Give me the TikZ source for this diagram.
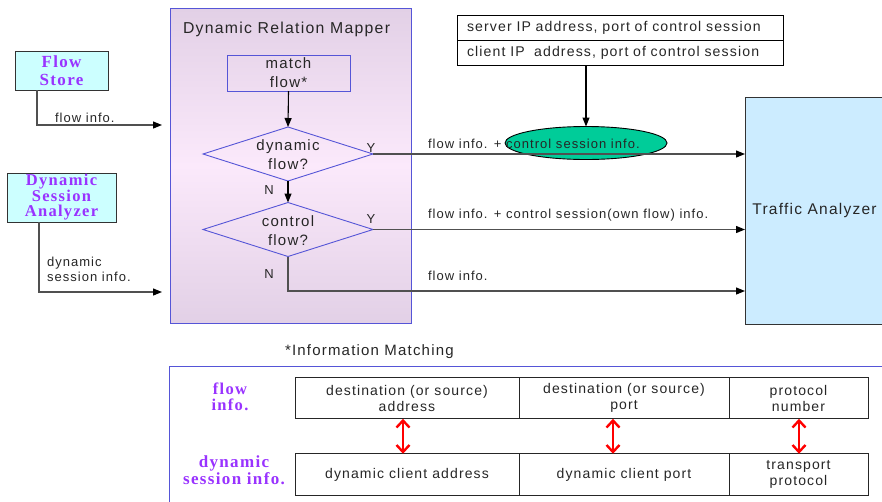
\documentclass[tikz,border=0pt]{standalone}
\usepackage{fontspec}
\setmainfont[LetterSpace=8]{Liberation Sans}
\newfontfamily\serifhead[LetterSpace=8]{Liberation Serif}
\usetikzlibrary{arrows.meta,shapes.geometric}
\definecolor{headpurple}{RGB}{153,51,255}
\definecolor{srcfill}{RGB}{204,255,255}
\definecolor{tafill}{RGB}{204,236,255}
\definecolor{mapblue}{RGB}{85,85,215}
\definecolor{ellgreen}{RGB}{0,204,153}
\definecolor{wire}{RGB}{80,80,80}
\definecolor{maptop}{RGB}{226,208,230}
\definecolor{mapmid}{RGB}{251,233,251}
\newcommand\fsz[2]{\fontsize{#1}{#2}\selectfont}

\begin{document}
\begin{tikzpicture}[x=1pt,y=-1pt,
  every node/.style={inner sep=0pt, outer sep=0pt, text=black!85},
  srcbox/.style={draw=black!80, line width=1pt, fill=srcfill, align=center,
    text=headpurple, font=\serifhead\bfseries\fsz{17}{18}},
  drmbox/.style={draw=mapblue, line width=1pt, top color=maptop,
    bottom color=maptop, middle color=mapmid},
  bluebox/.style={draw=mapblue, line width=0.9pt, align=center},
  decision/.style={diamond, draw=mapblue, line width=0.9pt,
    minimum width=170pt, minimum height=54pt},
  dectext/.style={align=center, font=\fsz{15}{19}},
  flowlbl/.style={font=\fsz{13}{15}},
  wireline/.style={draw=wire, line width=1.2pt},
  tip/.style={-{Triangle[length=9pt,width=7pt,color=black]}},
  infocell/.style={draw=black, line width=1pt, minimum height=25pt,
    minimum width=326pt, text width=306pt, align=left, font=\fsz{14.1}{16}},
  cell/.style={draw=black!85, line width=1pt, minimum height=41.5pt,
    align=center, font=\fsz{14}{16}},
  matcharrow/.style={draw=red, line width=2.4pt,
    {Straight Barb[length=7pt,width=13pt]}-{Straight Barb[length=7pt,width=13pt]}},
  purplehead/.style={text=headpurple, align=center}
]
\clip (0,0) rectangle (882,501);

% ---- sources on the left
\node[srcbox, minimum width=93pt, minimum height=39pt] (fs) at (61.5,70.5) {Flow\\Store};
\node[srcbox, font=\serifhead\bfseries\fsz{16.5}{15.5}, minimum width=109pt,
  minimum height=49pt] (dsa) at (61.5,197.5) {Dynamic\\Session\\Analyzer};

% ---- mapper block
\node[drmbox, minimum width=241pt, minimum height=315pt] (drm) at (290.5,165.5) {};
\node[anchor=base west, font=\fsz{15.8}{17}] (drmtitle) at (183,33) {Dynamic Relation Mapper};
\node[bluebox, minimum width=123pt, minimum height=36pt, font=\fsz{15}{19}] (mf)
  at (288.5,73) {match\\flow*};
\node[decision] (d1) at (288,154) {};
\node[dectext] (d1t) at (288,155) {dynamic\\flow?};
\node[decision] (d2) at (288,229.5) {};
\node[dectext] (d2t) at (288,230.5) {control\\flow?};

% ---- analyzer
\node[draw=black!80, line width=1pt, fill=tafill, minimum width=139pt,
  minimum height=227pt, font=\fsz{15.5}{17}] (ta) at (814.5,210.5) {Traffic Analyzer};

% ---- control session table and marker
\node[infocell] (srv) at (620,27.5) {server IP address, port of control session};
\node[infocell] (cli) at (620,52.5) {client IP~ address, port of control session};
\node[ellipse, draw=black, line width=0.9pt, fill=ellgreen, minimum width=162pt,
  minimum height=33pt] (ell) at (586,143) {};
\draw[draw=black, line width=1.1pt, tip] (ell.north |- cli.south) -- (ell.north);

% ---- inputs to the mapper
\coordinate (fsin) at (162,125);
\coordinate (dsain) at (162,292);
\draw[wireline, tip] ([xshift=22pt]fs.south west) |- (fsin);
\draw[wireline, tip] ([xshift=32pt]dsa.south west) |- (dsain);
\node[flowlbl, anchor=base west] (fsl) at (55,122) {flow info.};
\node[flowlbl, anchor=west, align=left] (dsal) at (47,269.5) {dynamic\\session info.};

% ---- decision flow
\draw[draw=black, line width=1.1pt, tip] (mf.south) -- (d1.north);
\draw[draw=black, line width=1.1pt, tip] (d1.south) -- (d2.north);
\draw[wireline, tip] (d1.east) -- (d1.east -| ta.west);
\draw[wireline, tip] (d2.east) -- (d2.east -| ta.west);
\draw[wireline, tip] (d2.south) |- (ta.west |- 0,291);
\node[flowlbl] (y1) at (371,148) {Y};
\node[flowlbl] (y2) at (371,219) {Y};
\node[flowlbl] (n1) at (269,190) {N};
\node[flowlbl] (n2) at (269,274) {N};
\node[flowlbl, anchor=base west] (l1) at (428,148) {flow info. + control session info.};
\node[flowlbl, anchor=base west] (l2) at (428,218) {flow info. + control session(own flow) info.};
\node[flowlbl, anchor=base west] (l3) at (428,280) {flow info.};

% ---- information matching
\node[anchor=base west, font=\fsz{15}{17}] (imt) at (285,355) {*Information Matching};
\draw[draw=mapblue, line width=1pt] (169,510) -- (169,366) -- (890,366);
\node[purplehead, font=\serifhead\bfseries\fsz{16.5}{15.5}] (flbl) at (230,397) {flow\\info.};
\node[purplehead, font=\serifhead\bfseries\fsz{17}{15.5}] (dlbl) at (234,470) {dynamic\\session info.};

\node[cell, minimum width=224pt] (fa) at (407,398) {destination (or source)\\address};
\node[cell, minimum width=210pt] (fp) at (624,398) {destination (or source)\\port};
\node[cell, minimum width=139pt] (fn) at (798.5,398) {protocol\\number};
\node[cell, minimum width=224pt] (da) at (407,474.5) {dynamic client address};
\node[cell, minimum width=210pt] (dp) at (624,474.5) {dynamic client port};
\node[cell, minimum width=139pt] (dt) at (798.5,474.5) {transport\\protocol};

\draw[matcharrow] ([xshift=-4pt]fa.south) -- ([xshift=-4pt]da.north);
\draw[matcharrow] ([xshift=-11pt]fp.south) -- ([xshift=-11pt]dp.north);
\draw[matcharrow] ([xshift=0.5pt]fn.south) -- ([xshift=0.5pt]dt.north);
\end{tikzpicture}
\end{document}
